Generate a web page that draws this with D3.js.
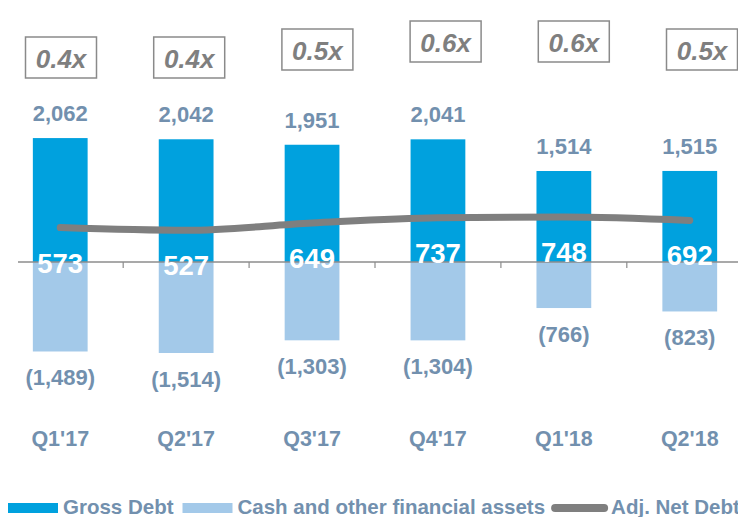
<!DOCTYPE html>
<html>
<head>
<meta charset="utf-8">
<script src="https://cdn.jsdelivr.net/npm/d3@7"></script>
<style>
  body { margin: 0; background: #fff; }
  text { font-family: "Liberation Sans", Arial, sans-serif; font-weight: bold; }
</style>
</head>
<body>
<div id="app"></div>
<script>
// data
const quarters = ["Q1'17", "Q2'17", "Q3'17", "Q4'17", "Q1'18", "Q2'18"];
const grossDebt = [2062, 2042, 1951, 2041, 1514, 1515];
const cashAssets = [-1489, -1514, -1303, -1304, -766, -823];
const adjNetDebt = [573, 527, 649, 737, 748, 692];
const leverage = [0.4, 0.4, 0.5, 0.6, 0.6, 0.5];
const legendLabels = ["Gross Debt", "Cash and other financial assets", "Adj. Net Debt"];

const w = 738, h = 517;
const blue = "#00a1de", lightBlue = "#a3c9e9", grey = "#7f7f7f", slate = "#7290ae";

const svg = d3.select("#app")
    .append("svg")
    .attr("width", w)
    .attr("height", h)

const data = quarters.map((q, i) => ({
    q: q, gross: grossDebt[i], cash: cashAssets[i], net: adjNetDebt[i], lev: leverage[i]
}))

const x = d3.scaleBand()
    .domain(quarters)
    .range([-2.4, 752.4])
    .paddingInner(0.565)
    .paddingOuter(0.28)

const cx = d => x(d) + x.bandwidth() / 2

const y = d3.scaleLinear()
    .domain([0, 1000])
    .range([262, 201.9])

// leverage boxes sit a bit higher when the ratio is higher
const boxX = d3.scalePoint().domain(quarters).range([61, 702])
const boxY = d3.scaleLinear().domain([0.4, 0.6]).range([37, 21])

// bars
svg.selectAll(".gross")
    .data(data)
    .enter()
    .append("rect")
    .attr("class", "gross")
    .attr("x", d => x(d.q))
    .attr("width", x.bandwidth())
    .attr("y", d => y(d.gross))
    .attr("height", d => y(0) - y(d.gross))
    .attr("fill", blue)

svg.selectAll(".cash")
    .data(data)
    .enter()
    .append("rect")
    .attr("class", "cash")
    .attr("x", d => x(d.q))
    .attr("width", x.bandwidth())
    .attr("y", y(0))
    .attr("height", d => y(d.cash) - y(0))
    .attr("fill", lightBlue)

// axis line with ticks between categories
svg.append("line")
    .attr("x1", 18).attr("x2", w)
    .attr("y1", y(0)).attr("y2", y(0))
    .attr("stroke", "#8c8c8c")
    .attr("stroke-width", 1.5)

svg.selectAll(".tick")
    .data(quarters.slice(1))
    .enter()
    .append("line")
    .attr("class", "tick")
    .attr("x1", d => x(d) - x.step() * x.paddingInner() / 2)
    .attr("x2", d => x(d) - x.step() * x.paddingInner() / 2)
    .attr("y1", y(0))
    .attr("y2", y(0) + 6)
    .attr("stroke", "#8c8c8c")
    .attr("stroke-width", 1.2)

// adj. net debt line
const line = d3.line()
    .x(d => cx(d.q))
    .y(d => y(d.net))
    .curve(d3.curveMonotoneX)

svg.append("path")
    .datum(data)
    .attr("d", line)
    .attr("fill", "none")
    .attr("stroke", grey)
    .attr("stroke-width", 7)
    .attr("stroke-linecap", "round")

// value labels
svg.selectAll(".grossLabel")
    .data(data)
    .enter()
    .append("text")
    .attr("x", d => cx(d.q))
    .attr("y", d => y(d.gross) - 17)
    .attr("text-anchor", "middle")
    .attr("font-size", 22)
    .attr("fill", slate)
    .text(d => d3.format(",")(d.gross))

svg.selectAll(".cashLabel")
    .data(data)
    .enter()
    .append("text")
    .attr("x", d => cx(d.q))
    .attr("y", d => y(d.cash) + 34)
    .attr("text-anchor", "middle")
    .attr("font-size", 22)
    .attr("fill", slate)
    .text(d => "(" + d3.format(",")(-d.cash) + ")")

svg.selectAll(".netLabel")
    .data(data)
    .enter()
    .append("text")
    .attr("x", d => cx(d.q))
    .attr("y", d => y(d.net) + 45)
    .attr("text-anchor", "middle")
    .attr("font-size", 27.5)
    .attr("fill", "#fff")
    .text(d => d.net)

// leverage boxes
const boxes = svg.selectAll(".lev")
    .data(data)
    .enter()
    .append("g")
    .attr("transform", d => "translate(" + boxX(d.q) + "," + boxY(d.lev) + ")")

boxes.append("rect")
    .attr("x", -35.5)
    .attr("width", 71)
    .attr("height", 41)
    .attr("fill", "#fff")
    .attr("stroke", "#8a8a8a")
    .attr("stroke-width", 1.5)

boxes.append("text")
    .attr("y", 31)
    .attr("text-anchor", "middle")
    .attr("font-size", 26)
    .attr("font-style", "italic")
    .attr("fill", grey)
    .text(d => d3.format(".1f")(d.lev) + "x")

// category labels
svg.selectAll(".cat")
    .data(quarters)
    .enter()
    .append("text")
    .attr("x", d => cx(d))
    .attr("y", 446)
    .attr("text-anchor", "middle")
    .attr("font-size", 21.5)
    .attr("fill", slate)
    .text(d => d)

// legend
const legend = svg.append("g").attr("id", "legend")
let lx = 8
const ly = 514
legendLabels.forEach((label, i) => {
    if (i < 2) {
        legend.append("rect")
            .attr("x", lx).attr("y", ly - 11)
            .attr("width", 50).attr("height", 10)
            .attr("fill", i == 0 ? blue : lightBlue)
        lx += 55
    } else {
        legend.append("line")
            .attr("x1", lx + 4).attr("x2", lx + 53)
            .attr("y1", ly - 6).attr("y2", ly - 6)
            .attr("stroke", grey)
            .attr("stroke-width", 8)
            .attr("stroke-linecap", "round")
        lx += 60
    }
    const t = legend.append("text")
        .attr("x", lx)
        .attr("y", ly)
        .attr("font-size", 20.5)
        .attr("fill", slate)
        .text(label)
    lx += t.node().getComputedTextLength() + (i == 0 ? 9 : 6)
})
</script>
</body>
</html>
